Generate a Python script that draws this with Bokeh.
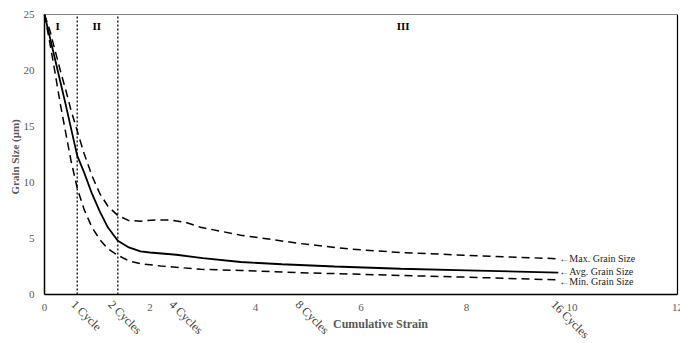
import math
from bokeh.plotting import figure
from bokeh.models import Range1d, FixedTicker, Title
from bokeh.core.properties import value
from bokeh.embed import file_html
from bokeh.resources import INLINE

# Data
avg_x = [0, 0.1, 0.2, 0.3, 0.4, 0.5, 0.62, 0.75, 0.9, 1.05, 1.2, 1.39, 1.6, 1.82, 2.0, 2.5, 3.0, 3.72, 4.5, 5.5, 6.75, 8.0, 9.74]
avg_y = [25, 23.0, 21.0, 19.0, 17.0, 14.9, 12.4, 10.9, 9.0, 7.4, 6.0, 4.8, 4.2, 3.85, 3.75, 3.55, 3.25, 2.9, 2.7, 2.5, 2.3, 2.15, 1.96]

max_x = [0, 0.1, 0.2, 0.3, 0.4, 0.5, 0.62, 0.75, 0.9, 1.05, 1.2, 1.39, 1.6, 1.82, 2.1, 2.4, 2.7, 2.96, 3.72, 4.85, 5.8, 6.75, 8.0, 9.74]
max_y = [25, 23.6, 21.8, 20.0, 18.3, 16.5, 14.6, 12.6, 10.6, 9.0, 7.9, 7.05, 6.6, 6.55, 6.65, 6.65, 6.4, 6.0, 5.3, 4.55, 4.05, 3.75, 3.5, 3.19]

min_x = [0, 0.1, 0.2, 0.3, 0.4, 0.5, 0.62, 0.75, 0.9, 1.05, 1.2, 1.39, 1.6, 1.82, 2.2, 2.96, 3.72, 4.85, 6.75, 8.0, 9.74]
min_y = [25, 22.5, 19.8, 17.0, 14.5, 12.0, 9.5, 7.6, 6.0, 4.9, 4.1, 3.5, 3.0, 2.75, 2.55, 2.25, 2.15, 1.95, 1.7, 1.55, 1.3]

stage_lines = [0.62, 1.39]
stage_names = ["I", "II", "III"]
stage_pos = [0.25, 0.99, 6.8]

cycle_names = ["1 Cycle", "2 Cycles", "4 Cycles", "8 Cycles", "16 Cycles"]
cycle_pos = [0.64, 1.34, 2.5, 4.89, 9.74]

series_names = ["\u2190Max. Grain Size", "\u2190Avg. Grain Size", "\u2190Min. Grain Size"]
series_label_y = [3.2, 2.05, 1.15]

x_ticks = [0, 2, 4, 6, 8, 10, 12]
y_ticks = [0, 5, 10, 15, 20, 25]

X_MIN, X_MAX = 0, 12
Y_MIN, Y_MAX = 0, 25

SERIF = "Liberation Serif"
GREY = "#595959"

# frame extended a little past the axes so that the texts around them are drawn
p = figure(width=680, height=343, output_backend="svg", toolbar_location=None,
           x_range=Range1d(-0.1517, 12.057), y_range=Range1d(-4.375, Y_MAX),
           x_axis_location=None,
           min_border_left=36, min_border_right=0, min_border_top=14, min_border_bottom=0)
p.grid.visible = False
p.outline_line_color = None

p.yaxis.ticker = FixedTicker(ticks=y_ticks)
p.yaxis.major_tick_line_color = None
p.yaxis.minor_tick_line_color = None
p.yaxis.major_tick_out = 0
p.yaxis.major_tick_in = 0
p.yaxis.axis_line_color = None
p.yaxis.major_label_text_font = SERIF
p.yaxis.major_label_text_font_size = "11px"
p.yaxis.major_label_text_color = GREY
p.yaxis.major_label_standoff = 2

p.add_layout(Title(text="Grain Size (\u03bcm)", align="left", offset=149, standoff=0,
                   text_font=SERIF, text_font_size="11px", text_font_style="bold",
                   text_color=GREY), "left")

# plot box
p.line([X_MIN, X_MAX], [Y_MIN, Y_MIN], line_color="black", line_width=1.5)
p.line([X_MIN, X_MIN], [Y_MIN, Y_MAX], line_color="black", line_width=1.5)
p.line([X_MIN, X_MAX], [Y_MAX, Y_MAX], line_color="black", line_width=1.2)
p.line([X_MAX, X_MAX], [Y_MIN, Y_MAX], line_color="black", line_width=1.2)

# stage boundary lines
for xs in stage_lines:
    p.line([xs, xs], [Y_MIN, Y_MAX], line_color="black", line_width=1.3, line_dash="2 2")

p.line(max_x, max_y, line_color="black", line_width=1.5, line_dash="8 5")
p.line(min_x, min_y, line_color="black", line_width=1.5, line_dash="8 5")
p.line(avg_x, avg_y, line_color="black", line_width=1.8)

# x tick labels
p.text(x=x_ticks, y=[-1.16] * len(x_ticks), text=[str(t) for t in x_ticks],
       text_font=value(SERIF), text_font_size="11px", text_color=GREY,
       text_align="center", text_baseline="middle")

# cycle labels (rotated)
p.text(x=cycle_pos, y=[-0.27] * len(cycle_pos), text=cycle_names,
       text_font=value(SERIF), text_font_size="12px", text_color="#404040",
       angle=-math.pi / 4, text_align="left", text_baseline="top")

# axis title
p.text(x=[6.37], y=[-2.59], text=["Cumulative Strain"], text_font=value(SERIF),
       text_font_size="12px", text_font_style="bold", text_color=GREY,
       text_align="center", text_baseline="middle")

# stage names
p.text(x=stage_pos, y=[24.0] * len(stage_pos), text=stage_names, text_font=value(SERIF),
       text_font_size="11px", text_font_style="bold", text_color="black",
       text_align="center", text_baseline="middle")

# series labels
p.text(x=[9.76] * len(series_names), y=series_label_y, text=series_names,
       text_font=value(SERIF), text_font_size="10px", text_color="#222222",
       text_align="left", text_baseline="middle")

open("out.html", "w").write(file_html(p, INLINE))
